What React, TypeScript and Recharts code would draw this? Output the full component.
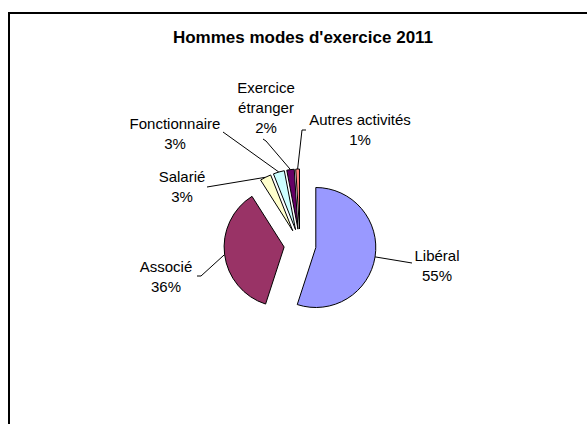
import React from "react";
import { PieChart, Pie } from "recharts";

const NAMES = ["Libéral", "Associé", "Salarié", "Fonctionnaire", "Exercice étranger", "Autres activités"];
const LABEL_LINES = [["Libéral"], ["Associé"], ["Salarié"], ["Fonctionnaire"], ["Exercice", "étranger"], ["Autres activités"]];
const VALUES = [55, 36, 3, 3, 2, 1];
const COLORS = ["#9999FF", "#993366", "#FFFFCC", "#CCFFFF", "#660066", "#FF8080"];
const TITLE = "Hommes modes d'exercice 2011";

const W = 587;
const H = 424;
const CX = 300;
const CY = 245;
const R = 60;
const EXPLODE = 16;
const RAD = Math.PI / 180;
const FONT = "'Liberation Sans', Arial, sans-serif";
const LINE_H = 20;

// label placement: x = text centre, y = first baseline, path = leader points after the arc midpoint
const LABEL_POS: { x: number; y: number; path: number[][] }[] = [
  { x: 437, y: 261, path: [[412, 263]] },
  { x: 166, y: 272, path: [[201, 276], [197, 276]] },
  { x: 182, y: 182, path: [[207, 187]] },
  { x: 175, y: 129, path: [[223, 132]] },
  { x: 266, y: 93, path: [[266, 141], [263, 139]] },
  { x: 360, y: 125, path: [[302, 130], [306, 130]] },
];

const TOTAL = VALUES.reduce((a, b) => a + b, 0);
const slices = VALUES.map((v, i) => {
  const before = VALUES.slice(0, i).reduce((a, b) => a + b, 0);
  const start = 90 - (360 * before) / TOTAL;
  const end = 90 - (360 * (before + v)) / TOTAL;
  const mid = (start + end) / 2;
  return {
    name: NAMES[i],
    value: v,
    start,
    end,
    cx: CX + EXPLODE * Math.cos(mid * RAD),
    cy: CY - EXPLODE * Math.sin(mid * RAD),
  };
});

function renderLabel(p: any, i: number) {
  const { cx, cy, midAngle, outerRadius } = p;
  const mx = cx + outerRadius * Math.cos(-midAngle * RAD);
  const my = cy + outerRadius * Math.sin(-midAngle * RAD);
  const pos = LABEL_POS[i];
  const pts = [[mx, my], ...pos.path].map(q => q.join(",")).join(" ");
  const lines = [...LABEL_LINES[i], `${VALUES[i]}%`];
  return (
    <g key={`lbl-${i}`}>
      <polyline points={pts} fill="none" stroke="#000" strokeWidth={1} />
      <text x={pos.x} y={pos.y} textAnchor="middle" fontFamily={FONT} fontSize={15} fill="#000">
        {lines.map((t, k) => (
          <tspan key={k} x={pos.x} y={pos.y + k * LINE_H}>{t}</tspan>
        ))}
      </text>
    </g>
  );
}

export default function App() {
  return (
    <div style={{ position: "fixed", left: 0, top: 0, width: W, height: H, overflow: "hidden", background: "#fff" }}>
      <div style={{ position: "absolute", left: 8, top: 12, width: W, height: H, borderLeft: "2px solid #000", borderTop: "2px solid #000" }} />
      <svg width={W} height={60} style={{ position: "absolute", left: 0, top: 0 }}>
        <text x={303} y={43} textAnchor="middle" fontFamily={FONT} fontSize={17} fontWeight="bold" fill="#000">{TITLE}</text>
      </svg>
      <div style={{ position: "absolute", left: 0, top: 0 }}>
        <PieChart width={W} height={H} margin={{ top: 0, right: 0, bottom: 0, left: 0 }}>
          {slices.map((s, i) => (
            <Pie
              key={s.name}
              data={[{ name: s.name, value: s.value }]}
              dataKey="value"
              nameKey="name"
              cx={s.cx}
              cy={s.cy}
              innerRadius={0}
              outerRadius={R}
              startAngle={s.start}
              endAngle={s.end}
              fill={COLORS[i]}
              stroke="#000"
              strokeWidth={1}
              labelLine={false}
              label={(p: any) => renderLabel(p, i)}
              isAnimationActive={false}
            />
          ))}
        </PieChart>
      </div>
    </div>
  );
}
